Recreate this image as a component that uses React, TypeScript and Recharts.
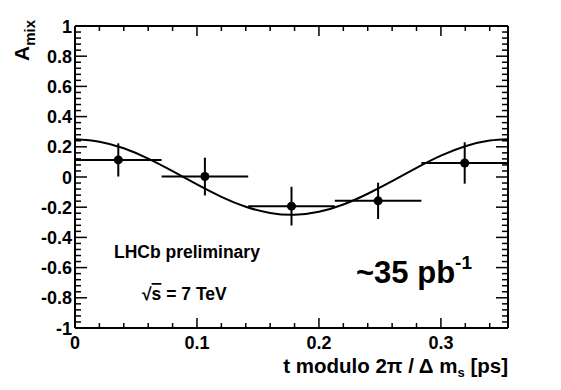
import { ComposedChart, XAxis, YAxis, Line, Scatter, ErrorBar } from 'recharts'

// Mixing asymmetry vs. decay time folded into one oscillation period.

const binCenters = [0.0355, 0.1065, 0.1775, 0.2485, 0.3195]
const binHalfWidths = [0.0355, 0.0355, 0.0355, 0.0355, 0.0355]
const asymmetry = [0.113, 0.003, -0.193, -0.158, 0.093]
const asymmetryErr = [0.11, 0.125, 0.128, 0.12, 0.137]

// fitted oscillation
const fitT = [0, 0.02, 0.04, 0.06, 0.08, 0.1, 0.12, 0.14, 0.16, 0.18, 0.2, 0.22, 0.24, 0.26, 0.28, 0.3, 0.32, 0.34, 0.355]
const fitA = [0.25, 0.234, 0.19, 0.122, 0.039, -0.049, -0.131, -0.197, -0.238, -0.25, -0.23, -0.182, -0.111, -0.028, 0.06, 0.141, 0.204, 0.241, 0.25]

const xTickLabels = [0, 0.1, 0.2, 0.3]
const yTickLabels = [-1, -0.8, -0.6, -0.4, -0.2, 0, 0.2, 0.4, 0.6, 0.8, 1]
const X_MAX = 0.355

const FONT = '"Liberation Sans", Arial, Helvetica, sans-serif'

const points = binCenters.map((t, i) => ({
  t,
  a: asymmetry[i],
  ex: binHalfWidths[i],
  ey: asymmetryErr[i],
}))
const fit = fitT.map((t, i) => ({ t, a: fitA[i] }))

// minor ticks: 5 per major step on both axes
const subdivide = (labels: number[], n: number, max?: number) => {
  const out: number[] = []
  const step = (labels[1] - labels[0]) / n
  const end = max ?? labels[labels.length - 1]
  for (let v = labels[0]; v <= end + 1e-9; v += step) out.push(Number(v.toFixed(4)))
  return out
}
const xTicks = subdivide(xTickLabels, 5, X_MAX)
const yTicks = subdivide(yTickLabels, 5)

const isMajor = (v: number, labels: number[]) => labels.some((l) => Math.abs(l - v) < 1e-6)
const fmt = (v: number) => String(Number(v.toFixed(2)))

const tickText = { fontFamily: FONT, fontWeight: 700, fontSize: 18, fill: '#000' }

const BottomTick = (p: any) => {
  const v = p.payload.value
  const major = isMajor(v, xTickLabels)
  return (
    <g>
      <line x1={p.x} x2={p.x} y1={p.y} y2={p.y - (major ? 10 : 5)} stroke="#000" strokeWidth={1.5} />
      {major && (
        <text x={p.x} y={p.y + 21} textAnchor="middle" {...tickText}>
          {fmt(v)}
        </text>
      )}
    </g>
  )
}

const TopTick = (p: any) => {
  const major = isMajor(p.payload.value, xTickLabels)
  return <line x1={p.x} x2={p.x} y1={p.y} y2={p.y + (major ? 10 : 5)} stroke="#000" strokeWidth={1.5} />
}

const LeftTick = (p: any) => {
  const v = p.payload.value
  const major = isMajor(v, yTickLabels)
  return (
    <g>
      <line x1={p.x} x2={p.x + (major ? 12 : 6)} y1={p.y} y2={p.y} stroke="#000" strokeWidth={1.5} />
      {major && (
        <text x={p.x - 3} y={p.y + 6.5} textAnchor="end" {...tickText}>
          {fmt(v)}
        </text>
      )}
    </g>
  )
}

const RightTick = (p: any) => {
  const major = isMajor(p.payload.value, yTickLabels)
  return <line x1={p.x} x2={p.x - (major ? 12 : 6)} y1={p.y} y2={p.y} stroke="#000" strokeWidth={1.5} />
}

const Dot = (p: any) => <circle cx={p.cx} cy={p.cy} r={4.5} fill="#000" />

export default function App() {
  const axisLine = { stroke: '#000', strokeWidth: 2 }
  return (
    <div style={{ position: 'absolute', left: 0, top: 0, width: 561, height: 390, background: '#fff' }}>
      <ComposedChart width={561} height={390} margin={{ top: 25, right: 52, bottom: 61, left: 74 }}>
        <XAxis
          dataKey="t"
          type="number"
          domain={[0, X_MAX]}
          ticks={xTicks}
          interval={0}
          tickSize={0}
          tickMargin={0}
          height={1}
          axisLine={axisLine}
          tick={<BottomTick />}
          allowDataOverflow
        />
        <XAxis
          xAxisId="top"
          orientation="top"
          dataKey="t"
          type="number"
          domain={[0, X_MAX]}
          ticks={xTicks}
          interval={0}
          tickSize={0}
          tickMargin={0}
          height={1}
          axisLine={axisLine}
          tick={<TopTick />}
          allowDataOverflow
        />
        <YAxis
          dataKey="a"
          type="number"
          domain={[-1, 1]}
          ticks={yTicks}
          interval={0}
          tickSize={0}
          tickMargin={0}
          width={1}
          axisLine={axisLine}
          tick={<LeftTick />}
          allowDataOverflow
        />
        <YAxis
          yAxisId="right"
          orientation="right"
          type="number"
          domain={[-1, 1]}
          ticks={yTicks}
          interval={0}
          tickSize={0}
          tickMargin={0}
          width={1}
          axisLine={axisLine}
          tick={<RightTick />}
          allowDataOverflow
        />
        <Line
          data={fit}
          dataKey="a"
          type="natural"
          stroke="#000"
          strokeWidth={2}
          dot={false}
          activeDot={false}
          isAnimationActive={false}
        />
        <Scatter data={points} dataKey="a" shape={<Dot />} isAnimationActive={false}>
          <ErrorBar dataKey="ex" direction="x" width={0} stroke="#000" strokeWidth={2} isAnimationActive={false} />
          <ErrorBar dataKey="ey" direction="y" width={0} stroke="#000" strokeWidth={2} isAnimationActive={false} />
        </Scatter>
      </ComposedChart>

      <svg
        width={561}
        height={390}
        style={{ position: 'absolute', left: 0, top: 0, pointerEvents: 'none' }}
        fontFamily={FONT}
        fontWeight={700}
      >
        <text transform="translate(29,20) rotate(-90)" textAnchor="end" fontSize={21}>
          A
          <tspan fontSize={15} dy={6}>
            mix
          </tspan>
        </text>
        <text x={508} y={373} textAnchor="end" fontSize={20.5}>
          t modulo 2π / Δ m
          <tspan fontSize={13} dy={4}>
            s
          </tspan>
          <tspan dy={-4}> [ps]</tspan>
        </text>
        <text x={114} y={258} fontSize={17.5}>
          LHCb preliminary
        </text>
        <text x={142} y={300} fontSize={17.5}>
          √<tspan textDecoration="overline">s</tspan> = 7 TeV
        </text>
        <text x={356} y={283} fontSize={31}>
          ~35 pb
          <tspan fontSize={19} dy={-14}>
            -1
          </tspan>
        </text>
      </svg>
    </div>
  )
}
